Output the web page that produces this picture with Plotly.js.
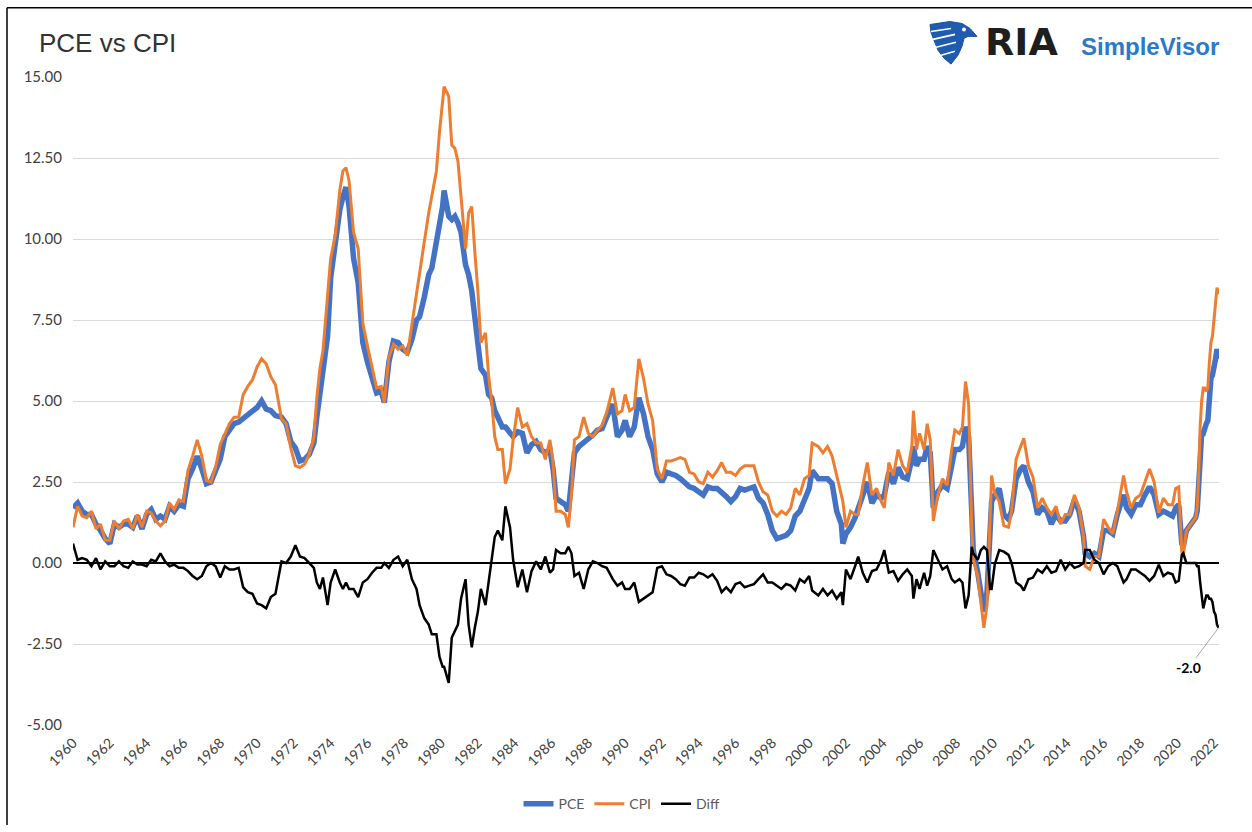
<!DOCTYPE html>
<html>
<head>
<meta charset="utf-8">
<script src="https://cdn.plot.ly/plotly-3.0.1.min.js"></script>
<style>html,body{margin:0;padding:0;background:#fff;}#chart{width:1252px;height:832px;}</style>
</head>
<body>
<div id="chart"></div>
<script>
// Month of each observation (YoY % change)
const months = [
'1960-01','1960-04','1960-07','1960-10','1961-01','1961-04','1961-07','1961-10',
'1962-01','1962-04','1962-07','1962-10','1963-01','1963-04','1963-07','1963-10',
'1964-01','1964-04','1964-07','1964-10','1965-01','1965-04','1965-07','1965-10',
'1966-01','1966-04','1966-07','1966-10','1967-01','1967-04','1967-07','1967-10',
'1968-01','1968-04','1968-07','1968-10','1969-01','1969-04','1969-07','1969-10',
'1970-01','1970-04','1970-07','1970-10','1971-01','1971-05','1971-08','1971-11',
'1972-02','1972-05','1972-08','1972-11','1973-02','1973-04','1973-06','1973-08','1973-11',
'1974-01','1974-04','1974-07','1974-09','1974-11','1975-01','1975-04','1975-07','1975-10',
'1976-01','1976-04','1976-07','1976-10','1976-12','1977-03','1977-06','1977-09','1977-12',
'1978-03','1978-06','1978-09','1978-11','1979-02','1979-05','1979-07','1979-10','1979-12',
'1980-02','1980-03','1980-06','1980-08','1980-10','1980-12','1981-02','1981-05','1981-07','1981-09','1981-11',
'1982-01','1982-03','1982-06','1982-08','1982-10','1982-12','1983-02','1983-05','1983-07','1983-10','1983-12',
'1984-03','1984-06','1984-09','1984-12','1985-03','1985-06','1985-09','1985-12',
'1986-02','1986-04','1986-07','1986-10','1986-12','1987-02','1987-04','1987-07','1987-10',
'1988-01','1988-04','1988-07','1988-10','1989-01','1989-05','1989-08','1989-11',
'1990-01','1990-04','1990-07','1990-10','1991-01','1991-04','1991-07','1991-10',
'1992-01','1992-04','1992-07','1992-10','1993-01','1993-04','1993-07','1993-10',
'1994-01','1994-04','1994-07','1994-10','1995-01','1995-04','1995-07','1995-10',
'1996-01','1996-04','1996-07','1996-10','1997-01','1997-04','1997-07','1997-10',
'1998-01','1998-04','1998-07','1998-10','1999-01','1999-04','1999-07','1999-10',
'2000-01','2000-03','2000-07','2000-10','2001-01','2001-04','2001-07','2001-10','2001-11',
'2002-01','2002-04','2002-07','2002-09','2002-12','2003-03','2003-06','2003-09','2003-12',
'2004-02','2004-05','2004-08','2004-11','2005-02','2005-05','2005-08','2005-09','2005-11',
'2006-01','2006-04','2006-06','2006-08','2006-10','2007-01','2007-04','2007-07','2007-10','2007-12',
'2008-03','2008-05','2008-07','2008-09','2008-11','2008-12','2009-03','2009-05','2009-07','2009-09','2009-11','2009-12',
'2010-02','2010-05','2010-08','2010-11','2011-01','2011-04','2011-07','2011-09','2011-12',
'2012-03','2012-06','2012-09','2012-12','2013-03','2013-06','2013-09','2013-12',
'2014-03','2014-06','2014-09','2014-12','2015-01','2015-04','2015-07','2015-10',
'2016-01','2016-04','2016-07','2016-10','2017-02','2017-04','2017-07','2017-10',
'2018-01','2018-04','2018-07','2018-10','2019-01','2019-04','2019-07','2019-10','2019-12',
'2020-02','2020-04','2020-05','2020-07','2020-10',
'2021-01','2021-02','2021-03','2021-04','2021-05','2021-06','2021-07','2021-08','2021-09','2021-10','2021-11','2021-12',
'2022-01','2022-02','2022-03','2022-04'
];

const pce = [
1.7,1.85,1.6,1.5,1.5,1.2,1.0,0.75,
0.6,1.2,1.1,1.2,1.2,1.1,1.45,1.05,
1.5,1.65,1.35,1.45,1.35,1.75,1.6,1.8,
1.75,2.6,2.9,3.3,2.9,2.45,2.5,2.85,
3.2,3.9,4.1,4.3,4.35,4.45,4.55,4.7,
4.8,5.0,4.75,4.7,4.55,4.5,4.3,3.75,
3.55,3.15,3.2,3.35,3.7,4.5,5.2,6.1,7.0,
8.8,9.9,10.9,11.3,11.6,11.0,9.4,8.65,6.8,
6.2,5.75,5.25,5.3,4.95,6.2,6.85,6.8,6.6,
6.5,6.9,7.5,7.6,8.2,8.9,9.1,9.9,10.4,
11.0,11.5,10.7,10.6,10.7,10.5,10.2,9.2,8.9,8.4,7.6,
6.9,6.0,5.8,5.2,5.1,4.7,4.5,4.2,4.2,4.0,3.9,
4.05,4.0,3.4,3.65,3.75,3.5,3.4,3.5,
2.9,2.0,1.9,1.8,1.6,2.4,3.4,3.6,3.7,
3.8,3.95,4.1,4.15,4.5,4.9,3.9,4.1,
4.4,3.9,4.2,5.1,4.6,3.9,3.5,2.75,
2.5,2.8,2.75,2.7,2.6,2.5,2.35,2.3,
2.2,2.1,2.35,2.3,2.3,2.2,2.05,1.9,
2.05,2.3,2.25,2.3,2.35,2.0,1.85,1.5,
1.0,0.75,0.8,0.85,1.0,1.45,1.6,2.0,
2.3,2.85,2.6,2.6,2.6,2.45,1.6,1.2,0.6,
0.9,1.1,1.4,1.7,2.1,2.5,1.85,2.1,2.0,
2.1,2.8,2.45,2.95,2.65,2.6,3.2,3.6,3.0,
3.2,3.2,3.6,3.4,1.7,2.2,2.4,2.3,3.0,3.5,
3.5,3.6,4.2,3.9,1.6,0.4,-0.3,-0.9,-1.5,-0.9,1.0,1.9,
2.1,2.3,1.5,1.35,1.6,2.6,2.9,3.0,2.5,
2.2,1.5,1.7,1.6,1.2,1.5,1.3,1.3,
1.5,1.95,1.6,0.8,0.3,0.2,0.3,0.2,
1.0,1.0,0.9,1.5,2.1,1.7,1.5,1.8,
1.8,2.1,2.35,2.1,1.5,1.6,1.5,1.45,1.7,
1.8,0.6,0.5,1.0,1.2,
1.4,1.6,2.5,3.6,4.0,4.0,4.2,4.3,4.4,5.1,5.7,5.8,
6.0,6.3,6.6,6.3
];

const cpi = [
1.1,1.75,1.45,1.4,1.6,1.05,1.2,0.7,
0.7,1.3,1.05,1.3,1.35,1.05,1.5,1.1,
1.6,1.55,1.3,1.15,1.3,1.85,1.65,1.95,
1.9,2.85,3.3,3.8,3.3,2.55,2.5,2.95,
3.65,4.0,4.3,4.5,4.5,5.2,5.45,5.65,
6.05,6.3,6.15,5.75,5.5,4.45,4.3,3.55,
3.0,2.95,3.05,3.35,3.85,5.1,6.0,6.55,8.3,
9.4,10.1,11.5,12.1,12.2,11.8,10.2,9.7,7.4,
6.7,6.05,5.4,5.45,4.95,6.35,6.75,6.6,6.7,
6.4,7.4,8.3,8.9,9.9,10.8,11.3,12.1,13.3,
14.2,14.7,14.4,12.9,12.8,12.4,11.3,9.7,10.8,11.0,9.6,
8.4,6.8,7.1,5.8,5.0,3.9,3.5,3.5,2.45,2.9,3.8,
4.8,4.2,4.3,3.9,3.7,3.7,3.2,3.8,
3.1,1.6,1.6,1.5,1.1,2.1,3.8,3.9,4.5,
4.0,3.9,4.1,4.25,4.65,5.4,4.6,4.7,
5.2,4.7,4.8,6.3,5.7,4.9,4.4,2.9,
2.6,3.15,3.15,3.2,3.25,3.2,2.8,2.75,
2.5,2.45,2.8,2.65,2.85,3.1,2.8,2.8,
2.7,2.9,3.0,3.0,3.0,2.5,2.2,2.1,
1.6,1.45,1.6,1.5,1.7,2.3,2.1,2.6,
2.7,3.7,3.6,3.4,3.6,3.3,2.7,2.1,1.9,
1.1,1.6,1.5,1.5,2.4,3.1,2.1,2.3,1.9,
1.7,3.1,2.7,3.5,3.0,2.8,3.6,4.7,3.5,
4.0,3.5,4.3,3.8,1.3,2.1,2.6,2.4,3.5,4.1,
4.0,4.2,5.6,4.9,1.1,0.1,-0.4,-1.3,-2.0,-1.3,1.8,2.7,
2.15,1.9,1.15,1.1,1.6,3.2,3.6,3.85,3.0,
2.65,1.7,2.0,1.7,1.5,1.75,1.2,1.5,
1.5,2.1,1.7,0.8,-0.1,-0.2,0.2,0.2,
1.35,1.1,0.9,1.6,2.7,2.2,1.7,2.0,
2.1,2.5,2.9,2.5,1.55,2.0,1.8,1.8,2.3,
2.35,0.35,0.2,1.0,1.2,
1.4,1.7,2.6,4.2,5.0,5.4,5.4,5.3,5.4,6.2,6.8,7.0,
7.5,7.9,8.5,8.3
];

const diff = [
0.6,0.1,0.15,0.1,-0.1,0.15,-0.2,0.05,
-0.1,-0.1,0.05,-0.1,-0.15,0.05,-0.05,-0.05,
-0.1,0.1,0.05,0.3,0.05,-0.1,-0.05,-0.15,
-0.15,-0.25,-0.4,-0.5,-0.4,-0.1,0.0,-0.1,
-0.45,-0.1,-0.2,-0.2,-0.15,-0.75,-0.9,-0.95,
-1.25,-1.3,-1.4,-1.05,-0.95,0.05,0.0,0.2,
0.55,0.2,0.15,0.0,-0.15,-0.6,-0.8,-0.45,-1.3,
-0.6,-0.2,-0.6,-0.8,-0.6,-0.8,-0.8,-1.05,-0.6,
-0.5,-0.3,-0.15,-0.15,0.0,-0.15,0.1,0.2,-0.1,
0.1,-0.5,-0.8,-1.3,-1.7,-1.9,-2.2,-2.2,-2.9,
-3.2,-3.2,-3.7,-2.3,-2.1,-1.9,-1.1,-0.5,-1.9,-2.6,-2.0,
-1.5,-0.8,-1.3,-0.6,0.1,0.8,1.0,0.7,1.75,1.1,0.1,
-0.75,-0.2,-0.9,-0.25,0.05,-0.2,0.2,-0.3,
-0.2,0.4,0.3,0.3,0.5,0.3,-0.4,-0.3,-0.8,
-0.2,0.05,0.0,-0.1,-0.15,-0.5,-0.7,-0.6,
-0.8,-0.8,-0.6,-1.2,-1.1,-1.0,-0.9,-0.15,
-0.1,-0.35,-0.4,-0.5,-0.65,-0.7,-0.45,-0.45,
-0.3,-0.35,-0.45,-0.35,-0.55,-0.9,-0.75,-0.9,
-0.65,-0.6,-0.75,-0.7,-0.65,-0.5,-0.35,-0.6,
-0.6,-0.7,-0.8,-0.65,-0.7,-0.85,-0.5,-0.6,
-0.4,-0.85,-1.0,-0.8,-1.0,-0.85,-1.1,-0.9,-1.3,
-0.2,-0.5,-0.1,0.2,-0.3,-0.6,-0.25,-0.2,0.1,
0.4,-0.3,-0.25,-0.55,-0.35,-0.2,-0.4,-1.1,-0.5,
-0.8,-0.3,-0.7,-0.4,0.4,0.1,-0.2,-0.1,-0.5,-0.6,
-0.5,-0.6,-1.4,-1.0,0.5,0.3,0.1,0.4,0.5,0.4,-0.8,-0.8,
-0.05,0.4,0.35,0.25,0.0,-0.6,-0.7,-0.85,-0.5,
-0.45,-0.2,-0.3,-0.1,-0.3,-0.25,0.1,-0.2,
0.0,-0.15,-0.1,0.0,0.4,0.4,0.1,0.0,
-0.35,-0.1,0.0,-0.1,-0.6,-0.5,-0.2,-0.2,
-0.3,-0.4,-0.55,-0.4,-0.05,-0.4,-0.3,-0.35,-0.6,
-0.55,0.25,0.3,0.0,0.0,
0.0,-0.1,-0.1,-0.6,-1.0,-1.4,-1.2,-1.0,-1.0,-1.1,-1.1,-1.2,
-1.5,-1.6,-1.9,-2.0
];

const seriesNames = ['PCE','CPI','Diff'];
const yTicks = [-5,-2.5,0,2.5,5,7.5,10,12.5,15];
const lastLabel = '-2.0';

// layout helpers (pixel -> paper)
const L = 73, T = 77, PW = 1146, PH = 654;
const px = x => (x - L) / PW;
const py = y => (T + PH - y) / PH;
function path(pts){ return 'M' + pts.map(p => px(p[0]).toFixed(5) + ',' + py(p[1]).toFixed(5)).join(' L') + ' Z'; }

const traces = [
  {x: months, y: pce, name: seriesNames[0], type: 'scatter', mode: 'lines',
   line: {color: '#4472C4', width: 5.5}, cliponaxis: false},
  {x: months, y: cpi, name: seriesNames[1], type: 'scatter', mode: 'lines',
   line: {color: '#ED7D31', width: 3}, cliponaxis: false},
  {x: months, y: diff, name: seriesNames[2], type: 'scatter', mode: 'lines',
   line: {color: '#000000', width: 2.5}, cliponaxis: false}
];

const eagle = [[930,24],[950,21],[962,23],[970,28],[977,36],[968,36],[964,38],[962,46],[958,55],[951,64],[944,58],[938,50],[934,40],[931,32]];
const stripe = (a,b) => ({type:'line', xref:'paper', yref:'paper', x0:px(a[0]), y0:py(a[1]), x1:px(b[0]), y1:py(b[1]), line:{color:'#ffffff', width:1.6}});

const layout = {
  width: 1252, height: 832,
  margin: {l: L, r: 1252 - L - PW, t: T, b: 832 - T - PH, pad: 0},
  paper_bgcolor: '#ffffff', plot_bgcolor: '#ffffff',
  font: {family: 'Lato, "Liberation Sans", sans-serif', size: 14, color: '#595959'},
  showlegend: true,
  legend: {orientation: 'h', x: px(622), xanchor: 'center', y: py(811), yanchor: 'middle',
           font: {family: 'Lato, sans-serif', size: 14, color: '#595959'}, bgcolor: 'rgba(0,0,0,0)'},
  xaxis: {type: 'date', range: ['1960-01-01', '2022-04-10'], tickmode: 'linear',
          tick0: '1960-01-01', dtick: 'M24', tickformat: '%Y', tickangle: -45,
          showgrid: false, zeroline: false, showline: false, ticks: '', ticklabelstandoff: 6,
          tickfont: {family: 'Lato, sans-serif', size: 14, color: '#404040'}},
  yaxis: {range: [-5, 15], tickmode: 'array', tickvals: yTicks,
          ticktext: yTicks.map(v => v.toFixed(2)),
          showgrid: true, gridcolor: '#d9d9d9', gridwidth: 1,
          zeroline: true, zerolinecolor: '#000000', zerolinewidth: 2,
          showline: false, ticks: '', ticklabelstandoff: 10,
          tickfont: {family: 'Lato, sans-serif', size: 15, color: '#404040'}},
  shapes: [
    {type:'line', xref:'paper', yref:'paper', x0:px(7), y0:py(7), x1:px(1252), y1:py(7), line:{color:'#000', width:1.5}},
    {type:'line', xref:'paper', yref:'paper', x0:px(7), y0:py(7), x1:px(7), y1:py(832), line:{color:'#000', width:1.5}},
    {type:'path', xref:'paper', yref:'paper', path: path(eagle), fillcolor:'#1f5cb0', line:{color:'#1a4f9e', width:1}},
    stripe([931,31],[951,28]), stripe([933,39],[955,34]), stripe([936,47],[956,42]), stripe([941,55],[955,51]),
    {type:'circle', xref:'paper', yref:'paper', x0:px(962), y0:py(27), x1:px(966), y1:py(31), fillcolor:'#ffffff', line:{width:0}}
  ],
  annotations: [
    {xref:'paper', yref:'paper', x: px(37), y: py(43), xanchor:'left', yanchor:'middle', showarrow:false,
     text:'PCE vs CPI', font:{family:'"Liberation Sans", Arial, sans-serif', size:26, color:'#333333'}},
    {xref:'paper', yref:'paper', x: px(983), y: py(42), xanchor:'left', yanchor:'middle', showarrow:false,
     text:'<b>RIA</b>', font:{family:'"DejaVu Sans", sans-serif', size:38, color:'#1e1e1e'}},
    {xref:'paper', yref:'paper', x: px(1079), y: py(46), xanchor:'left', yanchor:'middle', showarrow:false,
     text:'<b>SimpleVisor</b>', font:{family:'"Liberation Sans", Arial, sans-serif', size:24, color:'#2a7ac9'}},
    {x: months[months.length-1], y: diff[diff.length-1], xref:'x', yref:'y',
     text:'<b>' + lastLabel + '</b>', showarrow:true, arrowhead:0, arrowwidth:1, arrowcolor:'#a6a6a6',
     ax:-30, ay:40, font:{family:'Lato, sans-serif', size:14, color:'#000000'}}
  ]
};

Plotly.newPlot('chart', traces, layout, {displayModeBar: false, staticPlot: true});
</script>
</body>
</html>
